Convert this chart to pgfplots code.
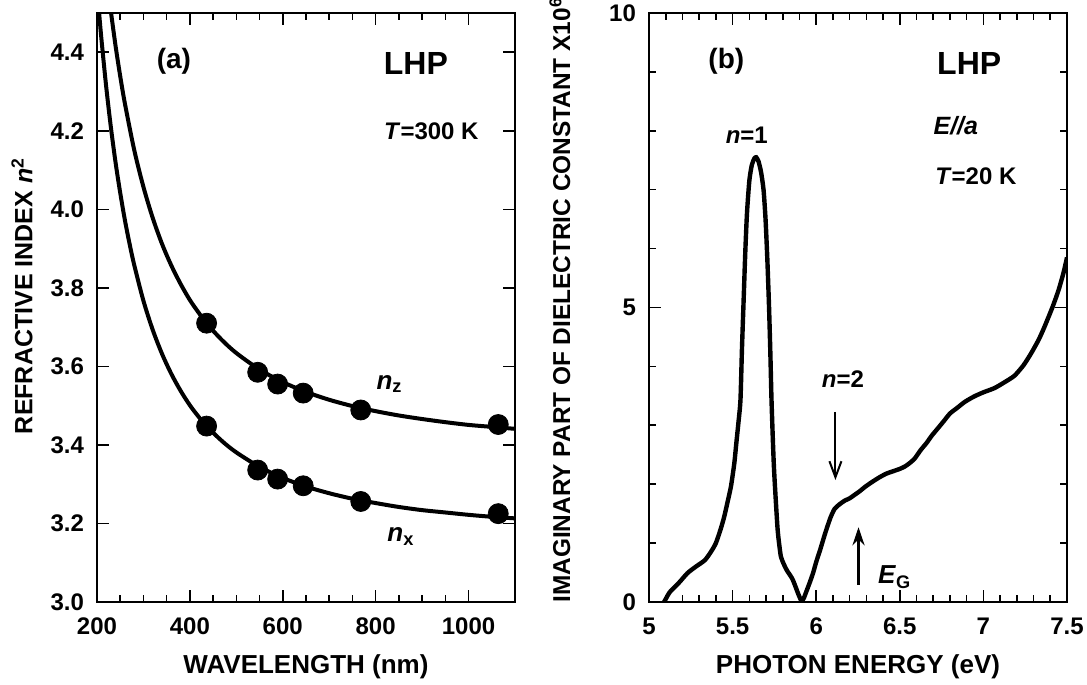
\documentclass[border=0pt]{standalone}
\usepackage{fontspec}
\setmainfont{Liberation Sans}
\usepackage{pgfplots}
\pgfplotsset{compat=1.18}
\usetikzlibrary{arrows.meta}

\pgfplotsset{
  panel/.style={
    scale only axis, width=209pt, height=294.5pt,
    axis line style={line width=1.1pt},
    tick align=inside, major tick length=6pt, minor tick length=3.5pt,
    every tick/.style={black, line width=0.8pt},
    tick label style={font=\fontsize{12}{12}\selectfont\bfseries},
    xticklabel style={yshift=-4.5pt},
    yticklabel style={xshift=-3pt},
    /pgf/number format/assume math mode=true,
    /pgf/number format/1000 sep={},
    label style={font=\fontsize{13}{13}\selectfont\bfseries},
  },
}

\begin{document}
\begin{tikzpicture}
\path[use as bounding box] (-48.5pt,-41.5pt) rectangle (495pt,301pt);

% (a) refractive index
\begin{axis}[panel, at={(0,0)}, anchor=south west,
  xmin=200, xmax=1100, ymin=3, ymax=4.5,
  xtick={200,400,...,1000}, minor x tick num=3,
  ytick={3.0,3.2,...,4.41},
  yticklabel style={/pgf/number format/.cd, fixed, fixed zerofill, precision=1},
  xlabel={WAVELENGTH (nm)},
  xlabel style={at={(rel axis cs:0.5,0)}, anchor=center, yshift=-32.5pt},
]
% n_z fit curve
\addplot[black, line width=2pt, smooth] coordinates {
(225,4.551)(230,4.503)(240,4.416)(250,4.339)(260,4.270)(280,4.152)(300,4.057)
(320,3.978)(340,3.912)(360,3.857)(380,3.810)(400,3.769)(420,3.735)(440,3.704)
(470,3.666)(500,3.634)(550,3.592)(600,3.560)(650,3.535)(700,3.515)(750,3.499)
(800,3.486)(850,3.475)(900,3.466)(950,3.458)(1000,3.451)(1050,3.446)(1100,3.441)};
% n_x fit curve
\addplot[black, line width=2pt, smooth] coordinates {
(200,4.566)(205,4.494)(210,4.428)(220,4.310)(230,4.208)(240,4.119)(250,4.042)
(260,3.973)(270,3.913)(280,3.859)(300,3.767)(320,3.693)(340,3.632)(360,3.581)
(380,3.538)(400,3.501)(420,3.470)(440,3.443)(470,3.409)(500,3.381)(550,3.344)
(600,3.316)(650,3.294)(700,3.277)(750,3.263)(800,3.252)(850,3.242)(900,3.234)
(950,3.228)(1000,3.222)(1050,3.217)(1100,3.213)};
% measured points
\addplot[only marks, mark=*, mark size=5pt, black] coordinates {
(436,3.710)(546,3.585)(589,3.555)(644,3.532)(768,3.489)(1064,3.452)};
\addplot[only marks, mark=*, mark size=5pt, black] coordinates {
(436,3.448)(546,3.336)(589,3.313)(644,3.296)(768,3.256)(1064,3.225)};
\node[font=\fontsize{14}{14}\selectfont\bfseries] at (rel axis cs:0.184,0.918) {(a)};
\node[font=\fontsize{16}{16}\selectfont\bfseries] at (rel axis cs:0.763,0.915) {LHP};
\node[font=\fontsize{12}{12}\selectfont\bfseries] at (rel axis cs:0.80,0.80) {\textit{T}=300 K};
\node[font=\fontsize{13}{13}\selectfont\bfseries] at (rel axis cs:0.70,0.37) {\textit{n}\textsubscript{z}};
\node[font=\fontsize{13}{13}\selectfont\bfseries] at (rel axis cs:0.727,0.111) {\textit{n}\textsubscript{x}};
\end{axis}

% (b) imaginary part of dielectric constant
\begin{axis}[panel, at={(276pt,0)}, anchor=south west,
  xmin=5, xmax=7.5, ymin=0, ymax=10,
  xtick={5,5.5,...,7.5}, minor x tick num=4,
  ytick={0,5,10}, minor ytick={1,2,3,4,6,7,8,9},
  xlabel={PHOTON ENERGY (eV)},
  xlabel style={at={(rel axis cs:0.5,0)}, anchor=center, yshift=-32.5pt},
]
\addplot[black, line width=2.2pt, smooth, tension=0.4] coordinates {
(5.09,0)(5.10,0.05)(5.125,0.17)(5.18,0.33)(5.23,0.49)(5.28,0.60)(5.334,0.71)
(5.37,0.85)(5.40,1.00)(5.43,1.25)(5.45,1.45)(5.47,1.70)(5.49,1.96)(5.51,2.35)
(5.522,2.69)(5.535,3.05)(5.547,3.43)(5.556,4.30)(5.566,5.13)(5.576,5.95)
(5.586,6.60)(5.600,7.15)(5.615,7.42)(5.63,7.53)(5.641,7.55)(5.655,7.48)
(5.67,7.30)(5.685,7.00)(5.697,6.50)(5.708,5.80)(5.718,5.00)(5.726,4.20)
(5.733,3.40)(5.747,2.30)(5.768,1.28)(5.78,0.95)(5.789,0.77)(5.805,0.65)(5.824,0.54)
(5.856,0.40)(5.875,0.27)(5.895,0.12)(5.912,0.02)(5.925,0.06)(5.94,0.17)
(5.96,0.32)(5.981,0.49)(6.00,0.68)(6.023,0.88)(6.054,1.17)(6.085,1.43)
(6.11,1.58)(6.14,1.66)(6.17,1.72)(6.20,1.76)(6.23,1.82)(6.26,1.88)(6.29,1.95)
(6.33,2.03)(6.38,2.12)(6.42,2.18)(6.46,2.22)(6.50,2.26)(6.53,2.30)(6.56,2.36)
(6.59,2.44)(6.625,2.58)(6.66,2.70)(6.69,2.82)(6.725,2.94)(6.76,3.06)(6.80,3.20)
(6.845,3.30)(6.89,3.40)(6.945,3.49)(7.00,3.56)(7.065,3.63)(7.12,3.72)(7.185,3.84)
(7.24,4.02)(7.285,4.22)(7.33,4.45)(7.365,4.67)(7.415,5.02)(7.45,5.30)(7.48,5.60)(7.50,5.85)};
\draw[line width=1pt, -{Straight Barb[length=8pt,width=6pt]}] (axis cs:6.115,3.23) -- (axis cs:6.115,2.07);
\draw[line width=1.6pt, -{Stealth[length=9pt,width=6pt]}] (axis cs:6.253,0.29) -- (axis cs:6.253,1.27);
\node[font=\fontsize{14}{14}\selectfont\bfseries] at (rel axis cs:0.185,0.918) {(b)};
\node[font=\fontsize{16}{16}\selectfont\bfseries] at (rel axis cs:0.766,0.915) {LHP};
\node[font=\fontsize{12.5}{12}\selectfont\bfseries] at (rel axis cs:0.734,0.809) {\textit{E//a}};
\node[font=\fontsize{12}{12}\selectfont\bfseries] at (rel axis cs:0.782,0.723) {\textit{T}=20 K};
\node[font=\fontsize{12}{12}\selectfont\bfseries] at (axis cs:5.585,7.92) {\textit{n}=1};
\node[font=\fontsize{12}{12}\selectfont\bfseries] at (axis cs:6.16,3.78) {\textit{n}=2};
\node[font=\fontsize{13}{13}\selectfont\bfseries] at (axis cs:6.47,0.42) {\textit{E}\textsubscript{G}};
\end{axis}

% axis titles on the left of each panel
\node[rotate=90, font=\fontsize{12.5}{12}\selectfont\bfseries] at (-37.5pt,153pt)
  {REFRACTIVE INDEX \textit{n}\textsuperscript{2}};
\node[rotate=90, font=\fontsize{12.2}{12}\selectfont\bfseries] at (231.5pt,151pt)
  {IMAGINARY PART OF DIELECTRIC CONSTANT X10\textsuperscript{6}};
\end{tikzpicture}
\end{document}
